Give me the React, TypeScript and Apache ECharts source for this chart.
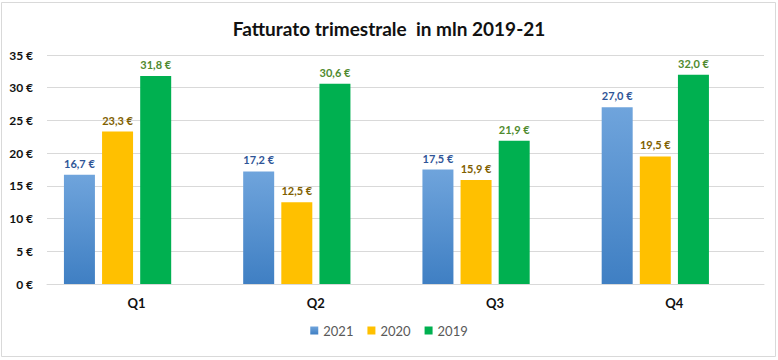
import React, { useEffect, useRef } from "react";
import * as echarts from "echarts";

const categories = ["Q1", "Q2", "Q3", "Q4"];
const seriesNames = ["2021", "2020", "2019"];
const values2021 = [16.7, 17.2, 17.5, 27.0];
const values2020 = [23.3, 12.5, 15.9, 19.5];
const values2019 = [31.8, 30.6, 21.9, 32.0];
// empty fourth slot present in the original (keeps the groups left of centre)
const valuesEmpty = [null, null, null, null];

const FONT = "Lato, 'Open Sans', sans-serif";

const fmt = (v: number) => v.toFixed(1).replace(".", ",") + " €";

export default function App() {
  const ref = useRef<HTMLDivElement>(null);
  useEffect(() => {
    if (!ref.current) return;
    const chart = echarts.init(ref.current, undefined, { renderer: "svg" });
    const labelFor = (color: string) => ({
      show: true,
      position: "top",
      distance: 6,
      color,
      fontFamily: FONT,
      fontWeight: "bold",
      fontSize: 11,
      formatter: (p: any) => fmt(p.value),
    });
    chart.setOption({
      animation: false,
      backgroundColor: "#fff",
      title: {
        text: "Fatturato trimestrale  in mln 2019-21",
        left: "center",
        top: 14,
        textStyle: { fontFamily: FONT, fontWeight: "bold", fontSize: 19, color: "#111" },
      },
      graphic: [
        {
          type: "rect",
          shape: { x: 1.5, y: 2.5, width: 774, height: 354 },
          style: { fill: "none", stroke: "#d9d9d9", lineWidth: 1 },
          silent: true,
        },
      ],
      legend: {
        data: seriesNames,
        bottom: 18,
        left: "center",
        itemWidth: 8,
        itemHeight: 8,
        itemGap: 14,
        icon: "rect",
        textStyle: { fontFamily: FONT, fontSize: 13, color: "#595959" },
      },
      grid: { left: 47, right: 14, top: 55, bottom: 76, containLabel: false },
      xAxis: {
        type: "category",
        data: categories,
        axisLine: { lineStyle: { color: "#d9d9d9" } },
        axisTick: { show: false },
        axisLabel: {
          fontFamily: FONT,
          fontWeight: "bold",
          fontSize: 13,
          color: "#111",
          margin: 12,
        },
      },
      yAxis: {
        type: "value",
        min: 0,
        max: 35,
        interval: 5,
        axisLine: { show: false },
        axisTick: { show: false },
        splitLine: { lineStyle: { color: "#d9d9d9" } },
        axisLabel: {
          fontFamily: FONT,
          fontWeight: "bold",
          fontSize: 12,
          color: "#111",
          margin: 14,
          formatter: (v: number) => v + " €",
        },
      },
      series: [
        {
          name: "2021",
          type: "bar",
          data: values2021,
          barWidth: 31,
          barGap: "23%",
          itemStyle: {
            color: new echarts.graphic.LinearGradient(0, 0, 0, 1, [
              { offset: 0, color: "#6fa4dc" },
              { offset: 1, color: "#3f7fc3" },
            ]),
          },
          label: labelFor("#2f5597"),
        },
        {
          name: "2020",
          type: "bar",
          data: values2020,
          barWidth: 31,
          barGap: "23%",
          itemStyle: { color: "#ffc000" },
          label: labelFor("#806000"),
        },
        {
          name: "2019",
          type: "bar",
          data: values2019,
          barWidth: 31,
          barGap: "23%",
          itemStyle: { color: "#00b050" },
          label: labelFor("#4f8a2e"),
        },
        {
          name: "_empty",
          type: "bar",
          data: valuesEmpty,
          barWidth: 31,
          barGap: "23%",
          itemStyle: { color: "transparent" },
          silent: true,
        },
      ],
    });
    return () => chart.dispose();
  }, []);
  return (
    <div
      ref={ref}
      style={{ width: 778, height: 360, position: "absolute", left: 0, top: 0 }}
    />
  );
}
